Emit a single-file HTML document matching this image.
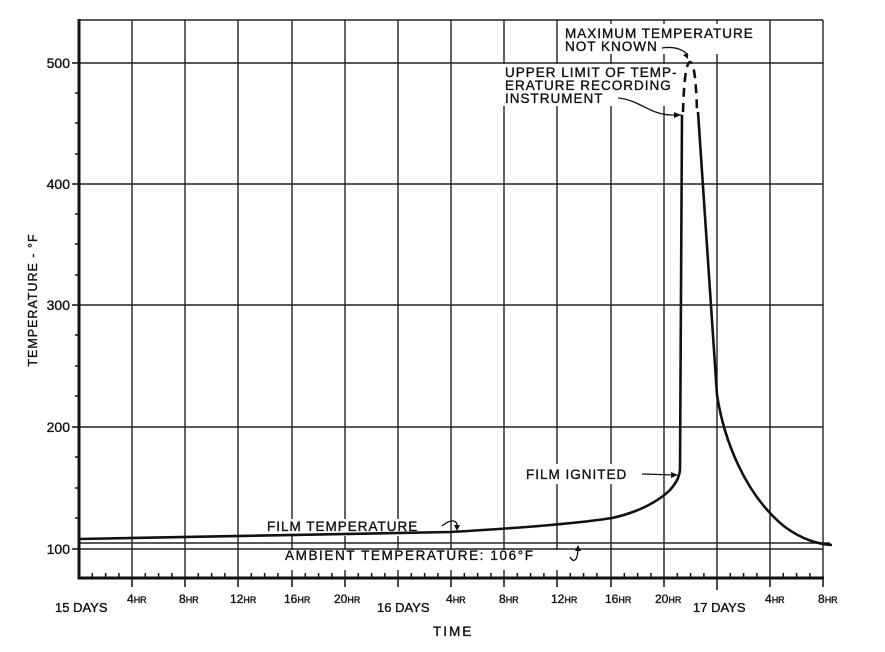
<!DOCTYPE html>
<html><head><meta charset="utf-8"><style>
body{margin:0;background:#fff}
svg text{font-family:"Liberation Sans",sans-serif;fill:#111;stroke:#111;stroke-width:0.35}
</style></head><body>
<svg width="885" height="647" xmlns="http://www.w3.org/2000/svg">
<rect width="885" height="647" fill="#fff"/>
<g stroke="#222" stroke-width="1.4" fill="none">
<line x1="132" y1="20" x2="132" y2="578"/><line x1="185" y1="20" x2="185" y2="578"/>
<line x1="238" y1="20" x2="238" y2="578"/><line x1="292" y1="20" x2="292" y2="578"/>
<line x1="345" y1="20" x2="345" y2="578"/><line x1="398" y1="20" x2="398" y2="578"/>
<line x1="451" y1="20" x2="451" y2="578"/><line x1="504" y1="20" x2="504" y2="578"/>
<line x1="557" y1="20" x2="557" y2="578"/><line x1="611" y1="20" x2="611" y2="578"/>
<line x1="664" y1="20" x2="664" y2="578"/><line x1="717" y1="20" x2="717" y2="578"/>
<line x1="770" y1="20" x2="770" y2="578"/><line x1="823" y1="20" x2="823" y2="578"/>
<line x1="79" y1="20" x2="823" y2="20"/>
<line x1="79" y1="63" x2="823" y2="63"/><line x1="79" y1="184" x2="823" y2="184"/>
<line x1="79" y1="305" x2="823" y2="305"/><line x1="79" y1="427" x2="823" y2="427"/>
<line x1="79" y1="549" x2="823" y2="549"/>
<line x1="79" y1="543" x2="830" y2="543"/>
</g>
<g stroke="#111" stroke-width="3" fill="none">
<line x1="79" y1="19" x2="79" y2="579"/><line x1="78" y1="578" x2="824" y2="578"/>
</g>
<g stroke="#111" stroke-width="1.5">
<line x1="72" y1="63" x2="79" y2="63"/><line x1="72" y1="184" x2="79" y2="184"/>
<line x1="72" y1="305" x2="79" y2="305"/><line x1="72" y1="427" x2="79" y2="427"/>
<line x1="72" y1="549" x2="79" y2="549"/>
<path d="M75 93H79M75 123H79M75 154H79M75 214H79M75 244H79M75 275H79M75 335H79M75 366H79M75 396H79M75 457H79M75 488H79M75 518H79"/>
<path d="M92.3 578v-5M105.6 578v-5M118.9 578v-5M145.3 578v-5M158.6 578v-5M171.9 578v-5M198.3 578v-5M211.6 578v-5M224.9 578v-5M251.3 578v-5M264.6 578v-5M277.9 578v-5M305.3 578v-5M318.6 578v-5M331.9 578v-5M358.3 578v-5M371.6 578v-5M384.9 578v-5M411.3 578v-5M424.6 578v-5M437.9 578v-5M464.3 578v-5M477.6 578v-5M490.9 578v-5M517.3 578v-5M530.6 578v-5M543.9 578v-5M570.3 578v-5M583.6 578v-5M596.9 578v-5M624.3 578v-5M637.6 578v-5M650.9 578v-5M677.3 578v-5M690.6 578v-5M703.9 578v-5M730.3 578v-5M743.6 578v-5M756.9 578v-5M783.3 578v-5M796.6 578v-5M809.9 578v-5"/>
<path d="M132 578v9M185 578v9M238 578v9M292 578v9M345 578v9M398 578v9M451 578v9M504 578v9M557 578v9M611 578v9M664 578v9M717 578v12M770 578v9M823 578v9"/>
</g>
<g fill="#fff">
<rect x="560" y="24" width="206" height="30"/>
<rect x="500" y="64" width="172" height="42"/>
<rect x="520" y="464" width="126" height="20"/>
<rect x="262" y="519" width="180" height="17"/>
<rect x="280" y="550" width="303" height="20"/>
</g>
<g fill="none" stroke="#111" stroke-width="2.6">
<path d="M79 539 C250 536 400 533 450 532 C520 528 580 523 612 518 C640 512 660 500 670 490 C676 483 679 478 680 470 L682 115"/>
<path d="M683 112 C684 80 686 63 690 62 C694 62 696 80 697 110" stroke-dasharray="9,6"/>
<path d="M698 112 L717 395 C724 440 745 495 785 527 C803 540 818 544 832 545"/>
</g>
<g fill="none" stroke="#111" stroke-width="1.3">
<path d="M662 48 C675 46 685 50 688 56"/>
<path d="M618 98 C640 100 650 115 672 115 L682 115"/>
<path d="M642 474 L676 475"/>
<path d="M442 526 C452 518 458 520 457 528"/>
<path d="M570 557 C574 564 578 560 578 547"/>
</g>
<g fill="#111">
<path d="M688 59 l-5 -4 l5 -2z"/><path d="M681 115 l-7 -3 v6z"/><path d="M678 475 l-7 -3 v6z"/><path d="M457 531 l-3 -6 h6z"/><path d="M578 545 l-3 6 h6z"/>
</g>
<g font-size="13.5" letter-spacing="1">
<text x="565" y="38">MAXIMUM TEMPERATURE</text>
<text x="565" y="51">NOT KNOWN</text>
<text x="505" y="77">UPPER LIMIT OF TEMP-</text>
<text x="505" y="90">ERATURE RECORDING</text>
<text x="505" y="103">INSTRUMENT</text>
<text x="526" y="479">FILM IGNITED</text>
<text x="267" y="531">FILM TEMPERATURE</text>
<text x="285" y="560" letter-spacing="1.6">AMBIENT TEMPERATURE: 106°F</text>
<text x="433" y="636" letter-spacing="2">TIME</text>
</g>
<g font-size="14" text-anchor="end">
<text x="70" y="68">500</text><text x="70" y="189">400</text><text x="70" y="310">300</text><text x="70" y="432">200</text><text x="70" y="554">100</text>
</g>
<text transform="translate(37,300) rotate(-90)" font-size="12.5" text-anchor="middle" letter-spacing="1">TEMPERATURE - °F</text>
<g font-size="13">
<text x="55" y="612">15 DAYS</text><text x="377" y="612">16 DAYS</text><text x="693" y="612">17 DAYS</text>
</g>
<g font-size="12">
<text x="127" y="603">4<tspan font-size="9">HR</tspan></text>
<text x="179" y="603">8<tspan font-size="9">HR</tspan></text>
<text x="230" y="603">12<tspan font-size="9">HR</tspan></text>
<text x="284" y="603">16<tspan font-size="9">HR</tspan></text>
<text x="334" y="603">20<tspan font-size="9">HR</tspan></text>
<text x="446" y="603">4<tspan font-size="9">HR</tspan></text>
<text x="499" y="603">8<tspan font-size="9">HR</tspan></text>
<text x="551" y="603">12<tspan font-size="9">HR</tspan></text>
<text x="605" y="603">16<tspan font-size="9">HR</tspan></text>
<text x="655" y="603">20<tspan font-size="9">HR</tspan></text>
<text x="765" y="603">4<tspan font-size="9">HR</tspan></text>
<text x="818" y="603">8<tspan font-size="9">HR</tspan></text>
</g>
</svg>
</body></html>
